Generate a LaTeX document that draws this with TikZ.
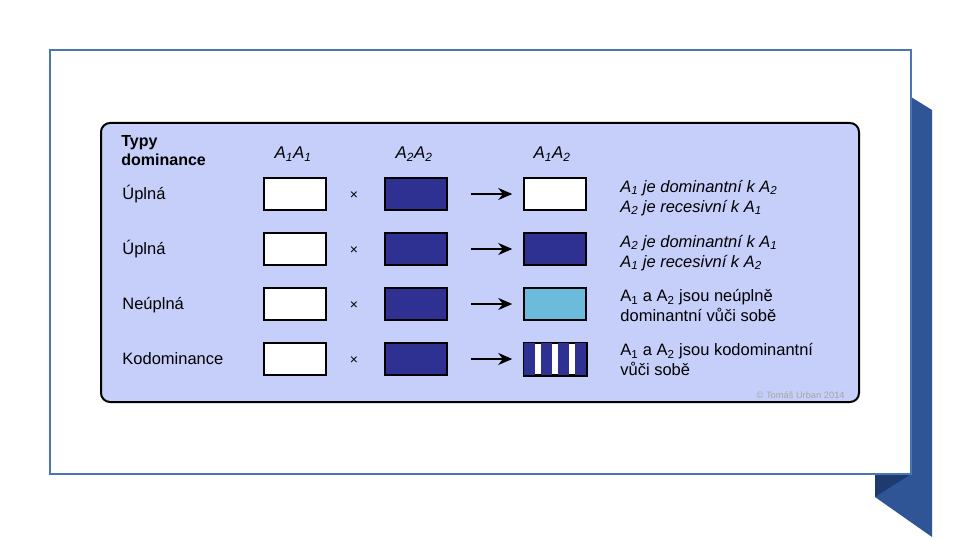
\documentclass[tikz,border=0pt]{standalone}
\usepackage{fontspec}
\setmainfont{Liberation Sans}
\usetikzlibrary{arrows.meta,positioning}

\definecolor{frameblue}{HTML}{4A76B4}
\definecolor{ribbon}{HTML}{2F5597}
\definecolor{ribbonfold}{HTML}{1F3A6E}
\definecolor{lavender}{HTML}{C6CEFA}
\definecolor{navy}{HTML}{2E3191}
\definecolor{skyblue}{HTML}{6BBCDC}

\begin{document}
\begin{tikzpicture}[x=1pt, y=-1pt, thick]
    \tikzstyle{every node}=[inner sep=0pt, font=\fontsize{16.5}{19}\selectfont]
    \tikzstyle{gene}=[draw=black, line width=1.5pt, fill=white, minimum width=62pt, minimum height=32pt]
    \tikzstyle{line}=[anchor=base west]
    \tikzstyle{slanted}=[anchor=base west, font=\fontsize{16.5}{19}\selectfont\itshape]
    \tikzstyle{colhead}=[font=\fontsize{17}{17}\selectfont\itshape]
    \tikzstyle{cross}=[font=\fontsize{14}{14}\selectfont]
    \tikzstyle{arr}=[-{Stealth[length=14pt, width=12pt]}, line width=2pt, shorten <=23pt, shorten >=11pt]

    \useasboundingbox (0,0) rectangle (960,540);

    % ribbon behind the slide
    \fill[ribbon] (911,97) -- (932,110) -- (932,537) -- (875,497) -- (875,474) -- (911,474) -- cycle;
    \fill[ribbonfold] (875,474) -- (911,474) -- (875,497) -- cycle;
    \draw[frameblue, line width=1.5pt, fill=white] (50,50) rectangle (911,474);

    \draw[line width=2pt, fill=lavender, rounded corners=9pt] (101,123) rectangle (859,402);

    % header
    \node[anchor=west, align=left, font=\fontsize{16}{19}\selectfont\bfseries] (typy) at (121,151) {Typy\\dominance};
    \node[colhead] (h1) at (293,154) {A\textsubscript{1}A\textsubscript{1}};
    \node[colhead] (h2) at (414,154) {A\textsubscript{2}A\textsubscript{2}};
    \node[colhead] (h3) at (552,154) {A\textsubscript{1}A\textsubscript{2}};

    % row 1
    \node[line] (lab1) at (122,199) {Úplná};
    \node[gene] (r1a) at (295,194) {};
    \node[cross] (x1) at (354,196) {×};
    \node[gene, fill=navy] (r1b) at (416,194) {};
    \node[gene] (r1c) at (555,194) {};
    \draw[arr] (r1b) -- (r1c);
    \node[slanted] (t1a) at (620,192) {A\textsubscript{1} je dominantní k A\textsubscript{2}};
    \node[slanted] (t1b) at (620,212) {A\textsubscript{2} je recesivní k A\textsubscript{1}};

    % row 2
    \node[line] (lab2) at (122,254) {Úplná};
    \node[gene] (r2a) at (295,249) {};
    \node[cross] (x2) at (354,251) {×};
    \node[gene, fill=navy] (r2b) at (416,249) {};
    \node[gene, fill=navy] (r2c) at (555,249) {};
    \draw[arr] (r2b) -- (r2c);
    \node[slanted] (t2a) at (620,247) {A\textsubscript{2} je dominantní k A\textsubscript{1}};
    \node[slanted] (t2b) at (620,267) {A\textsubscript{1} je recesivní k A\textsubscript{2}};

    % row 3
    \node[line] (lab3) at (122,309) {Neúplná};
    \node[gene] (r3a) at (295,304) {};
    \node[cross] (x3) at (354,306) {×};
    \node[gene, fill=navy] (r3b) at (416,304) {};
    \node[gene, fill=skyblue] (r3c) at (555,304) {};
    \draw[arr] (r3b) -- (r3c);
    \node[line] (t3a) at (620,301.5) {A\textsubscript{1} a A\textsubscript{2} jsou neúplně};
    \node[line] (t3b) at (620,321) {dominantní vůči sobě};

    % row 4
    \node[line] (lab4) at (122,364) {Kodominance};
    \node[gene] (r4a) at (295,359) {};
    \node[cross] (x4) at (354,361) {×};
    \node[gene, fill=navy] (r4b) at (416,359) {};
    \node[gene] (r4c) at (555,359) {};
    \foreach \s in {0,17,34,51}
        \fill[navy] ([xshift=\s pt+1pt, yshift=-1pt]r4c.north west) rectangle ([xshift=\s pt+12pt, yshift=1pt]r4c.south west);
    \draw[line width=1.5pt] (r4c.north west) rectangle (r4c.south east);
    \draw[arr] (r4b) -- (r4c);
    \node[line] (t4a) at (620,355.5) {A\textsubscript{1} a A\textsubscript{2} jsou kodominantní};
    \node[line] (t4b) at (620,375) {vůči sobě};

    \node[anchor=base east, font=\fontsize{9.3}{10}\selectfont, text=gray!70] (copy) at (845,398) {© Tomáš Urban 2014};
\end{tikzpicture}
\end{document}
